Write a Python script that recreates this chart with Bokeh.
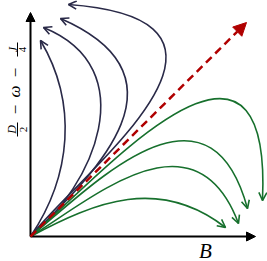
import numpy as np
from bokeh.plotting import figure
from bokeh.models import Range1d, Arrow, OpenHead, NormalHead
from bokeh.core.properties import value
from bokeh.embed import file_html
from bokeh.resources import INLINE

# ---- data (origin of the diagram at 0,0) ----
curve_color = ["#2a2a48"] * 4 + ["#17702d"] * 4
end_x = [10, 13, 30, 38, 195, 208, 217, 232]
end_y = [196, 209, 218, 232, 9, 13, 28, 36]
ctrl1_x = [41.0, 61.8, 66.0, 48.4, 65.9, 63.0, 60.4, 64.4]
ctrl1_y = [60.6, 49.2, 64.6, 62.7, 35.3, 38.8, 49.5, 55.0]
ctrl2_x = [47.3, 114.9, 164.4, 255.4, 128.8, 164.5, 177.6, 242.0]
ctrl2_y = [133.3, 167.7, 159.6, 216.0, 60.2, 128.7, 172.0, 258.7]

diag_end = (216, 214)
x_axis_end = 225
y_axis_end = 224

ylabel_parts = ["D", "2", "\u2212", "\u03c9", "\u2212", "J", "4"]
ylabel_x = [-18.5, -7.5, -15, -16, -15, -18, -8]
ylabel_y = [107, 107, 127, 145, 164, 187, 187]
ylabel_size = ["12px", "11px", "17px", "17px", "17px", "12px", "11px"]
ylabel_style = ["italic", "normal", "normal", "italic", "normal", "italic", "normal"]
bar_x = [-13, -13]
bar_y0 = [100, 180]
bar_y1 = [114, 194]

xlabel = "B"
xlabel_pos = (175, -14)

p = figure(width=267, height=261, output_backend="svg", toolbar_location=None,
           x_range=Range1d(-30, 237), y_range=Range1d(-25, 236), min_border=0)
p.axis.visible = False
p.grid.visible = False
p.outline_line_color = None
p.background_fill_color = "white"

# axes with arrow heads
p.add_layout(Arrow(end=NormalHead(size=9, fill_color="black", line_color="black"),
                   x_start=0, y_start=0, x_end=x_axis_end, y_end=0,
                   line_color="black", line_width=2))
p.add_layout(Arrow(end=NormalHead(size=9, fill_color="black", line_color="black"),
                   x_start=0, y_start=0, x_end=0, y_end=y_axis_end,
                   line_color="black", line_width=2))

# curves
n = len(end_x)
p.bezier(x0=[0]*n, y0=[0]*n, x1=end_x, y1=end_y, cx0=ctrl1_x, cy0=ctrl1_y,
         cx1=ctrl2_x, cy1=ctrl2_y, line_color=curve_color, line_width=1.6)
for i in range(n):
    dx = end_x[i] - ctrl2_x[i]
    dy = end_y[i] - ctrl2_y[i]
    L = (dx * dx + dy * dy) ** 0.5
    p.add_layout(Arrow(end=OpenHead(size=8, line_color=curve_color[i], line_width=1.6),
                       x_start=end_x[i] - 2 * dx / L, y_start=end_y[i] - 2 * dy / L,
                       x_end=end_x[i], y_end=end_y[i],
                       line_color=curve_color[i], line_width=1.6))

# red dashed diagonal
p.add_layout(Arrow(end=NormalHead(size=13, fill_color="#b00000", line_color="#b00000"),
                   x_start=0, y_start=0, x_end=diag_end[0], y_end=diag_end[1],
                   line_color="#b00000", line_width=2.5, line_dash="8 5"))

# labels
for i in range(len(ylabel_parts)):
    p.text(x=[ylabel_x[i]], y=[ylabel_y[i]], text=[ylabel_parts[i]], angle=np.pi / 2,
           text_font=value("Liberation Serif"), text_font_style=ylabel_style[i],
           text_font_size=ylabel_size[i], text_align="center", text_baseline="middle",
           text_color="black")
p.segment(x0=bar_x, y0=bar_y0, x1=bar_x, y1=bar_y1, line_color="black", line_width=1)

p.text(x=[xlabel_pos[0]], y=[xlabel_pos[1]], text=[xlabel], text_font=value("Liberation Serif"),
       text_font_style="italic", text_font_size="21px", text_align="center",
       text_baseline="middle", text_color="black")

open("out.html", "w").write(file_html(p, INLINE))
